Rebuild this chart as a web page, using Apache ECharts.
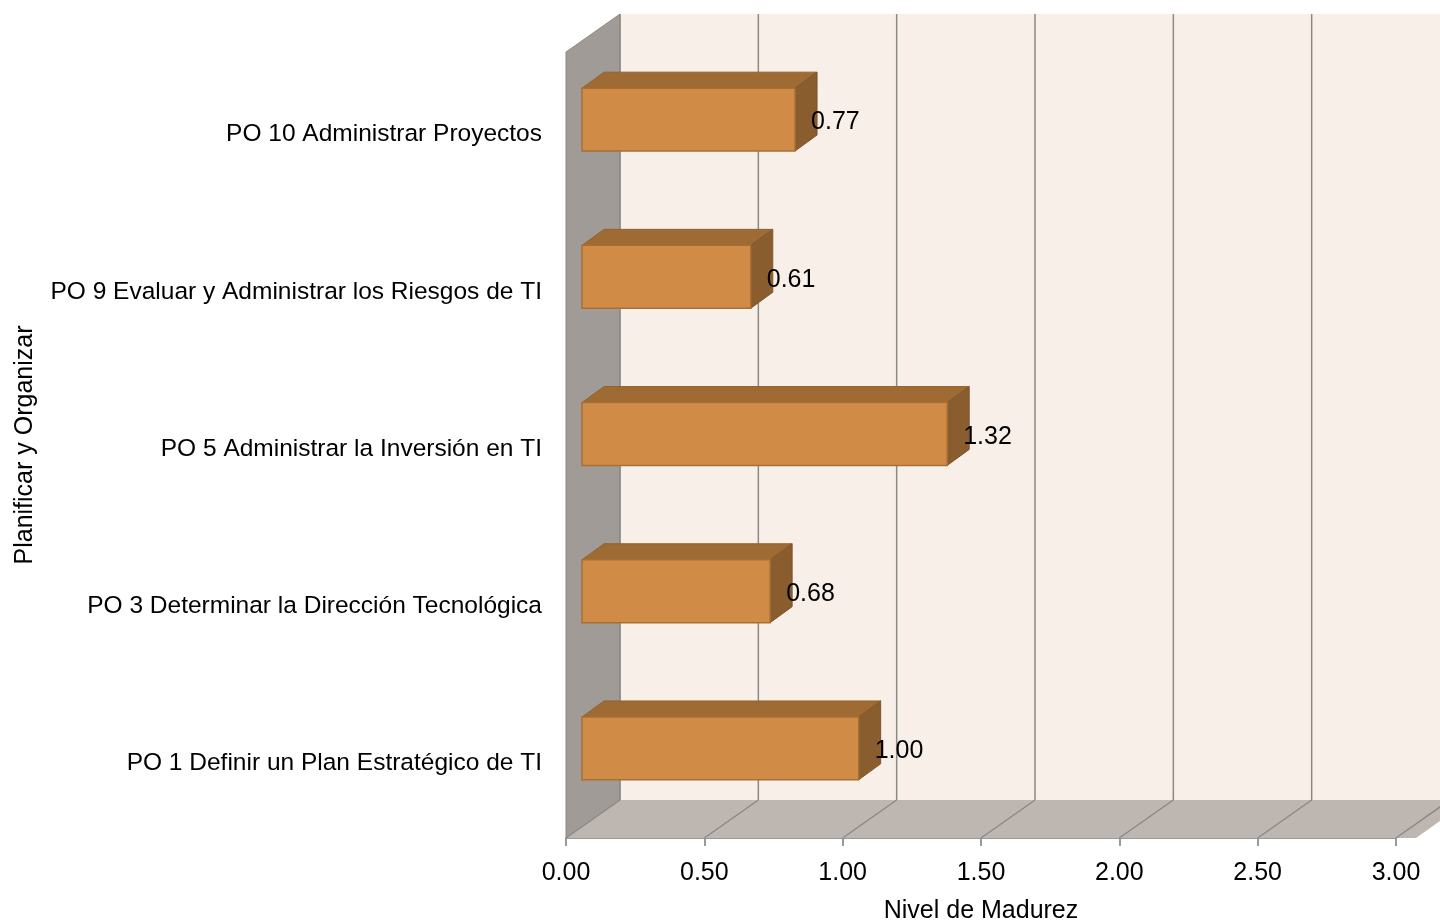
<!DOCTYPE html>
<html><head><meta charset="utf-8">
<script src="https://cdn.jsdelivr.net/npm/echarts@6/dist/echarts.min.js"></script>
<style>html,body{margin:0;padding:0;background:#fff}#c{width:1440px;height:923px}</style>
</head><body><div id="c"></div>
<script>
var categories = ['PO 1 Definir un Plan Estratégico de TI','PO 3 Determinar la Dirección Tecnológica','PO 5 Administrar la Inversión en TI','PO 9 Evaluar y Administrar los Riesgos de TI','PO 10 Administrar Proyectos'];
var values = [1.00, 0.68, 1.32, 0.61, 0.77];
var ticks = [0, 0.5, 1.0, 1.5, 2.0, 2.5, 3.0];
var xAxisName = 'Nivel de Madurez';
var yAxisName = 'Planificar y Organizar';

var FONT = '"Liberation Sans", Arial, sans-serif';
var DX = 54, DY = -38;     // wall depth offset
var BX = 16, BY = -11;     // bar placement depth
var TX = 22, TY = -16;     // bar depth

var chart = echarts.init(document.getElementById('c'));

function renderBackground(params, api) {
  var cs = params.coordSys;
  var left = cs.x, top = cs.y, right = cs.x + cs.width, bottom = cs.y + cs.height;
  var children = [];
  children.push({type:'rect', shape:{x:left+DX, y:top+DY, width:cs.width+DX+20, height:cs.height}, style:{fill:'#F8EFE8'}});
  children.push({type:'polygon', shape:{points:[[left,top],[left+DX,top+DY],[left+DX,bottom+DY],[left,bottom]]}, style:{fill:'#A19B97', stroke:'#8F8A86', lineWidth:1}});
  children.push({type:'polygon', shape:{points:[[left,bottom],[left+DX,bottom+DY],[right+DX+20,bottom+DY],[right+20,bottom]]}, style:{fill:'#BEB7B1'}});
  for (var i = 0; i < ticks.length; i++) {
    var x = api.coord([ticks[i], 0])[0];
    children.push({type:'line', shape:{x1:x+DX, y1:top+DY, x2:x+DX, y2:bottom+DY}, style:{stroke:'#8A8A8A', lineWidth:1.5}});
    children.push({type:'line', shape:{x1:x, y1:bottom, x2:x+DX, y2:bottom+DY}, style:{stroke:'#8A8A8A', lineWidth:1.5}});
  }
  return {type:'group', children:children};
}

function renderBar(params, api) {
  var v = api.value(0), c = api.value(1);
  var p0 = api.coord([0, c]), p1 = api.coord([v, c]);
  var h = api.size([0, 1])[1] * 0.4;
  var x0 = p0[0] + BX, x1 = p1[0] + BX, yc = p0[1] + BY;
  var y0 = yc - h/2, y1 = yc + h/2;
  return {type:'group', children:[
    {type:'polygon', shape:{points:[[x0,y0],[x0+TX,y0+TY],[x1+TX,y0+TY],[x1,y0]]}, style:{fill:'#9E6B35', stroke:'#93622F', lineWidth:1}},
    {type:'polygon', shape:{points:[[x1,y0],[x1+TX,y0+TY],[x1+TX,y1+TY],[x1,y1]]}, style:{fill:'#8A5D2E', stroke:'#80552A', lineWidth:1}},
    {type:'rect', shape:{x:x0, y:y0, width:x1-x0, height:h}, style:{fill:'#D08C47', stroke:'#A86F35', lineWidth:1.5}},
    {type:'text', style:{x:x1+16, y:yc+3, text:v.toFixed(2), fill:'#000', font:'25px ' + FONT, verticalAlign:'middle', align:'left'}}
  ]};
}

chart.setOption({
  animation:false,
  grid:{left:566, right:44, top:52, bottom:85, outerBoundsMode:'none', containLabel:false},
  xAxis:{type:'value', min:0, max:3, interval:0.5,
    name:xAxisName, nameLocation:'middle', nameGap:61,
    nameTextStyle:{fontSize:25, color:'#000', fontFamily:FONT},
    axisLine:{show:true, lineStyle:{color:'#999', width:2}},
    axisTick:{show:true, length:8, lineStyle:{color:'#999', width:2}},
    splitLine:{show:false},
    axisLabel:{fontSize:25, color:'#000', fontFamily:FONT, margin:23, formatter:function(v){return v.toFixed(2);}}
  },
  yAxis:{type:'category', data:categories,
    name:yAxisName, nameLocation:'middle', nameGap:528, nameRotate:90,
    nameTextStyle:{fontSize:25, color:'#000', fontFamily:FONT},
    axisLine:{show:false}, axisTick:{show:false},
    axisLabel:{margin:24, formatter:function(v){return '{a|' + v + '}';},
      rich:{a:{fontSize:24.5, color:'#000', fontFamily:FONT, padding:[8,0,0,0]}}}
  },
  series:[
    {type:'custom', renderItem:renderBackground, data:[[0,0]], z:1, silent:true, clip:false},
    {type:'custom', renderItem:renderBar, encode:{x:0, y:1}, z:2, clip:false,
      data:values.map(function(v,i){return [v,i];})}
  ]
});
</script></body></html>
